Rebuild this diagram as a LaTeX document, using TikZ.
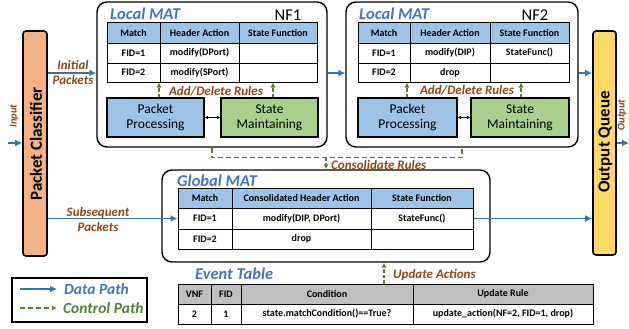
\documentclass[tikz,border=0pt]{standalone}
\usepackage{fontspec}
\setmainfont{Carlito}
\usetikzlibrary{arrows.meta,calc}
\definecolor{hdrblue}{HTML}{9DC3E6}
\definecolor{boxgreen}{HTML}{A9D18E}
\definecolor{pcorange}{HTML}{F4B183}
\definecolor{oqyellow}{HTML}{FFD966}
\definecolor{hdrgray}{HTML}{BFBFBF}
\definecolor{arrblue}{HTML}{2E75B6}
\definecolor{ctrlgreen}{HTML}{548235}
\definecolor{lblbrown}{HTML}{8F4514}
\definecolor{ttlblue}{HTML}{4472C4}
\tikzset{
  fz/.style={font=\fontsize{#1}{#1}\selectfont},
  mat/.style={draw, rounded corners=10pt, line width=1.4pt, inner sep=0pt},
  func/.style={draw, line width=1.8pt, inner sep=0pt, align=center, font=\fontsize{13.5}{15}\selectfont},
  bar/.style={draw, rounded corners=3pt, line width=1.6pt, inner sep=0pt},
  tabframe/.style={draw, line width=1pt, inner sep=0pt},
  tline/.style={line width=0.8pt},
  tt/.style={font=\fontsize{10}{10}\selectfont\bfseries, inner sep=0pt},
  data/.style={draw=arrblue, line width=1.6pt, -{Latex[length=7pt,width=7pt]}},
  ctrl/.style={draw=ctrlgreen, line width=1.2pt, dash pattern=on 3.5pt off 2pt, -{Latex[length=5pt,width=5pt]}},
  ctrlplain/.style={draw=ctrlgreen, line width=1.2pt, dash pattern=on 5pt off 3pt},
  lbl/.style={text=lblbrown, font=\fontsize{13}{15}\selectfont\bfseries\itshape, inner sep=0pt, align=center},
  ttl/.style={text=ttlblue, font=\fontsize{16.5}{17}\selectfont\bfseries\itshape, inner sep=0pt, anchor=west},
}
\begin{document}
\begin{tikzpicture}[x=1pt,y=-1pt]
\useasboundingbox (0,0) rectangle (629,329);

% Side bars
\node[bar, fill=pcorange, minimum width=24, minimum height=225] (pc) at (35,143.5) {};
\node[rotate=90, font=\fontsize{17}{17}\selectfont\bfseries, inner sep=0pt] (pct) at (36,144) {Packet Classifier};
\node[bar, fill=oqyellow, minimum width=23, minimum height=224] (oq) at (604.5,143) {};
\node[rotate=90, font=\fontsize{17}{17}\selectfont\bfseries, inner sep=0pt] (oqt) at (605.5,142) {Output Queue};

% NF boxes
\node[mat, minimum width=230, minimum height=145] (nf1) at (212,74.5) {};
\node[mat, minimum width=232, minimum height=145] (nf2) at (462,74.5) {};
\node[ttl] (lm1) at (110,14) {Local MAT};
\node[fz=16.5, inner sep=0pt] (nf1t) at (288,15) {NF1};
\node[ttl] (lm2) at (359,14) {Local MAT};
\node[fz=16.5, inner sep=0pt] (nf2t) at (535,15) {NF2};

% NF1 table
\fill[hdrblue] (107,23) rectangle (317,43);
\draw[tline] (107,43) -- (317,43) (107,63) -- (317,63) (160,23) -- (160,82) (239,23) -- (239,82);
\node[tabframe, minimum width=210, minimum height=59] (tab1) at (212,52.5) {};
\node[tt] (a1) at (133.5,33) {Match};
\node[tt] (a2) at (199.5,33) {Header Action};
\node[tt] (a3) at (278,33) {State Function};
\node[tt] (a4) at (133.5,53) {FID=1};
\node[tt] (a5) at (199.5,53) {modify(DPort)};
\node[tt] (a6) at (133.5,72.5) {FID=2};
\node[tt] (a7) at (199.5,72.5) {modify(SPort)};

% NF2 table
\fill[hdrblue] (358,23) rectangle (569,43);
\draw[tline] (358,43) -- (569,43) (358,63) -- (569,63) (410,23) -- (410,82) (490,23) -- (490,82);
\node[tabframe, minimum width=211, minimum height=59] (tab2) at (463.5,52.5) {};
\node[tt] (b1) at (384,33) {Match};
\node[tt] (b2) at (450,33) {Header Action};
\node[tt] (b3) at (529.5,33) {State Function};
\node[tt] (b4) at (384,53) {FID=1};
\node[tt] (b5) at (450,53) {modify(DIP)};
\node[tt] (b6) at (529.5,53) {StateFunc()};
\node[tt] (b7) at (384,72.5) {FID=2};
\node[tt] (b8) at (450,72.5) {drop};

% Function boxes
\node[func, fill=hdrblue, minimum width=97, minimum height=39] (pp1) at (155.5,117.5) {Packet\\Processing};
\node[func, fill=boxgreen, minimum width=97, minimum height=39] (sm1) at (269.5,117.5) {State\\Maintaining};
\node[func, fill=hdrblue, minimum width=99, minimum height=39] (pp2) at (407.5,117.5) {Packet\\Processing};
\node[func, fill=boxgreen, minimum width=98, minimum height=39] (sm2) at (520,117.5) {State\\Maintaining};
\draw[line width=1pt, {Latex[length=3pt,width=3.5pt]}-{Latex[length=3pt,width=3.5pt]}] (pp1.east) -- (sm1.west);
\draw[line width=1pt, {Latex[length=3pt,width=3.5pt]}-{Latex[length=3pt,width=3.5pt]}] (pp2.east) -- (sm2.west);

% Add/Delete arrows
\draw[ctrl] ([xshift=3.5]pp1.north) -- ([xshift=3.5]pp1.north |- tab1.south);
\draw[ctrl] ([xshift=3.5]sm1.north) -- ([xshift=3.5]sm1.north |- tab1.south);
\draw[ctrl] ([xshift=-0.5]pp2.north) -- ([xshift=-0.5]pp2.north |- tab2.south);
\draw[ctrl] ([xshift=1]sm2.north) -- ([xshift=1]sm2.north |- tab2.south);
\node[lbl] (adr1) at (216,91.5) {Add/Delete Rules};
\node[lbl] (adr2) at (467,90) {Add/Delete Rules};

% Global MAT
\node[mat, minimum width=328, minimum height=92] (gmat) at (326,216) {};
\node[ttl] (gmt) at (177,181) {Global MAT};
\fill[hdrblue] (178,188) rectangle (473,208);
\draw[tline] (178,208) -- (473,208) (178,229) -- (473,229) (232,188) -- (232,249) (371,188) -- (371,249);
\node[tabframe, minimum width=295, minimum height=61] (gtab) at (325.5,218.5) {};
\node[tt] (g1) at (205,198) {Match};
\node[tt] (g2) at (301.5,198) {Consolidated Header Action};
\node[tt] (g3) at (422,198) {State Function};
\node[tt] (g4) at (205,218.5) {FID=1};
\node[tt] (g5) at (301.5,218.5) {modify(DIP, DPort)};
\node[tt] (g6) at (422,218.5) {StateFunc()};
\node[tt] (g7) at (205,239) {FID=2};
\node[tt] (g8) at (301.5,239) {drop};

% Consolidate
\draw[ctrlplain] (nf1.south) -- ++(0,10) -| (nf2.south);
\coordinate (cy) at (0,157);
\draw[ctrl] (gmat.north |- cy) -- (gmat.north);
\node[lbl, anchor=west] (cr) at (331,165) {Consolidate Rules};

% Event table
\node[ttl] (ett) at (195,274) {Event Table};
\fill[hdrgray] (178,284) rectangle (593,304);
\draw[tline] (178,304) -- (593,304) (211,284) -- (211,324) (241,284) -- (241,324) (413,284) -- (413,324);
\node[tabframe, minimum width=415, minimum height=40] (etab) at (385.5,304) {};
\node[tt] (e1) at (194.5,294) {VNF};
\node[tt] (e2) at (226,294) {FID};
\node[tt] (e3) at (327,294) {Condition};
\node[tt] (e4) at (503,294) {Update Rule};
\node[tt] (e5) at (194.5,314) {2};
\node[tt] (e6) at (226,314) {1};
\node[tt] (e7) at (327,314) {state.matchCondition()==True?};
\node[tt] (e8) at (503,314) {update\_action(NF=2, FID=1, drop)};
\coordinate (ux) at (384,0);
\draw[ctrl] (etab.north -| ux) -- (gmat.south -| ux);
\node[lbl, anchor=west] (ua) at (393,275) {Update Actions};

% Data path arrows
\coordinate (iy) at (0,73);
\draw[data] (pc.east |- iy) -- (nf1.west |- iy);
\draw[data] (nf1.east |- iy) -- (nf2.west |- iy);
\draw[data] (nf2.east |- iy) -- (oq.west |- iy);
\node[lbl] (ip) at (73,72) {Initial\\Packets};
\draw[data] (pc.east |- gtab.west) -- (gtab.west);
\draw[data] (gtab.east) -- (gtab.east -| oq.west);
\node[lbl] (sp) at (98,219) {Subsequent\\Packets};
\coordinate (ins) at (8,143);
\draw[data] (ins) -- (ins -| pc.west);
\node[lbl, rotate=90, font=\fontsize{10.5}{11}\selectfont\bfseries\itshape] (inl) at (14,116) {Input};
\coordinate (oute) at (629,143);
\draw[data] (oute -| oq.east) -- (oute);
\node[lbl, rotate=90, font=\fontsize{10.5}{11}\selectfont\bfseries\itshape] (outl) at (622,115) {Output};

% Legend
\node[draw, line width=1.4pt, minimum width=135, minimum height=44, inner sep=0pt] (leg) at (79.5,300) {};
\coordinate (l1a) at (20,289); \coordinate (l1b) at (57,289);
\coordinate (l2a) at (20,308); \coordinate (l2b) at (57,308);
\draw[data] (l1a) -- (l1b);
\draw[ctrl, dash pattern=on 5pt off 3pt] (l2a) -- (l2b);
\node[text=ttlblue, font=\fontsize{15.5}{16}\selectfont\bfseries\itshape, anchor=west, inner sep=0pt] (dp) at (64,289) {Data Path};
\node[text=ctrlgreen, font=\fontsize{15.5}{16}\selectfont\bfseries\itshape, anchor=west, inner sep=0pt] (cp) at (63,308) {Control Path};
\end{tikzpicture}
\end{document}
